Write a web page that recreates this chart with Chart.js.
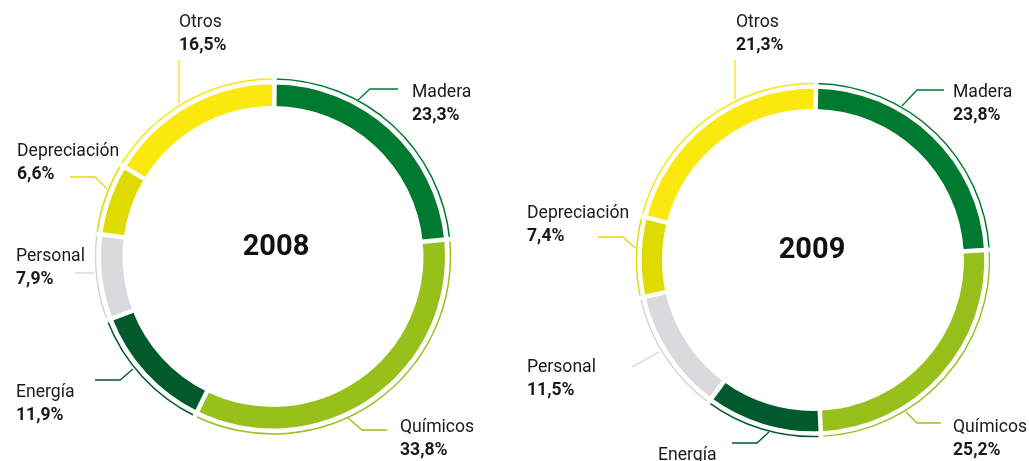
<!DOCTYPE html>
<html>
<head>
<meta charset="utf-8">
<script src="https://cdn.jsdelivr.net/npm/chart.js@4/dist/chart.umd.min.js"></script>
<style>
  html, body { margin: 0; padding: 0; background: #ffffff; }
  body { width: 1029px; height: 461px; position: relative; overflow: hidden; }
  .wrap { position: absolute; top: 0; height: 461px; }
</style>
</head>
<body>
<div class="wrap" id="w1" style="left:0px;width:546px;"><canvas id="c2008" width="546" height="461"></canvas></div>
<div class="wrap" id="w2" style="left:514px;width:515px;"><canvas id="c2009" width="515" height="461"></canvas></div>
<script>
// ---- data ----
const categories = ['Madera', 'Químicos', 'Energía', 'Personal', 'Depreciación', 'Otros'];
const years = ['2008', '2009'];
const values2008 = [23.3, 33.8, 11.9, 7.9, 6.6, 16.5];
const values2009 = [23.8, 25.2, 10.8, 11.5, 7.4, 21.3];

// ---- styles ----
const segColors = ['#017a31', '#97c11a', '#005a2c', '#d9dadb', '#dfdb00', '#fbe90e'];
const thinColors = ['#017a31', '#97c11a', '#005a2c', '#d3d4d5', '#dfdb00', '#f8e60a'];
const FONT = 'Roboto, "Open Sans", sans-serif';

// label layouts (absolute page coords): text x, baseline of first line, leader polyline
const layout2008 = [
  { x: 412, y: 97,  line: [[358,100],[370,89],[398,89]] },
  { x: 400, y: 432, line: [[348,418],[362,430],[387,430]] },
  { x: 16,  y: 397, line: [[133,369],[120,380],[95,380]] },
  { x: 16,  y: 261, line: [[94,273],[75,273]] },
  { x: 17,  y: 156, line: [[107,189],[95,177],[70,177]] },
  { x: 179, y: 27,  line: [[179,103],[179,60]] }
];
const layout2009 = [
  { x: 953, y: 97,  line: [[902,106],[917,90],[944,90]] },
  { x: 953, y: 432, line: [[906,412],[917,423],[941,423]] },
  { x: 658, y: 460, line: [[769,432],[757,443],[732,443]] },
  { x: 527, y: 372, line: [[659,352],[632,367]] },
  { x: 527, y: 218, line: [[635,248],[623,237],[598,237]] },
  { x: 736, y: 27,  line: [[735,100],[735,60]] }
];

function fmt(v) { return v.toFixed(1).replace('.', ',') + '%'; }

const gapPlugin = {
  id: 'gaps',
  afterDatasetsDraw(chart) {
    const ctx = chart.ctx;
    const thick = chart.getDatasetMeta(2).data;
    const thin = chart.getDatasetMeta(0).data;
    if (!thick.length) return;
    const cx = thick[0].x, cy = thick[0].y;
    const r0 = thick[0].innerRadius - 3, r1 = thin[0].outerRadius + 3;
    ctx.save();
    ctx.strokeStyle = '#ffffff';
    ctx.lineWidth = 4.5;
    thick.forEach(a => {
      const ang = a.startAngle;
      ctx.beginPath();
      ctx.moveTo(cx + Math.cos(ang) * r0, cy + Math.sin(ang) * r0);
      ctx.lineTo(cx + Math.cos(ang) * r1, cy + Math.sin(ang) * r1);
      ctx.stroke();
    });
    ctx.restore();
  }
};

const labelPlugin = {
  id: 'labels',
  afterDraw(chart, args, opts) {
    const ctx = chart.ctx;
    const ox = opts.offsetX;
    const meta = chart.getDatasetMeta(2).data;
    const cx = meta[0].x, cy = meta[0].y;
    ctx.save();
    // centre title
    ctx.fillStyle = '#111111';
    ctx.font = 'bold 29px ' + FONT;
    ctx.textAlign = 'center';
    ctx.textBaseline = 'middle';
    ctx.fillText(opts.title, cx + opts.titleDx, cy - 9);
    ctx.textAlign = 'left';
    ctx.textBaseline = 'alphabetic';
    opts.layout.forEach((L, i) => {
      ctx.strokeStyle = thinColors[i];
      ctx.lineWidth = 1.3;
      ctx.beginPath();
      L.line.forEach((p, j) => {
        if (j === 0) ctx.moveTo(p[0] - ox, p[1]); else ctx.lineTo(p[0] - ox, p[1]);
      });
      ctx.stroke();
      ctx.fillStyle = '#1a1a1a';
      ctx.font = '17.6px ' + FONT;
      ctx.fillText(categories[i], L.x - ox, L.y);
      ctx.font = 'bold 17.6px ' + FONT;
      ctx.fillText(fmt(opts.values[i]), L.x - ox, L.y + 22.5);
    });
    ctx.restore();
  }
};

function makeChart(id, values, title, layout, offsetX, pad, rotation, radius, cutout, titleDx) {
  return new Chart(document.getElementById(id), {
    type: 'doughnut',
    data: {
      labels: categories,
      datasets: [
        { data: values, backgroundColor: thinColors, borderWidth: 0, weight: 1.5 },
        { data: values, backgroundColor: 'rgba(0,0,0,0)', borderWidth: 0, weight: 4.75 },
        { data: values, backgroundColor: segColors, borderWidth: 0, weight: 21.5 }
      ]
    },
    options: {
      responsive: false,
      animation: false,
      events: [],
      rotation: rotation,
      radius: radius,
      cutout: cutout,
      layout: { padding: pad },
      plugins: {
        legend: { display: false },
        tooltip: { enabled: false },
        labels: { title: title, layout: layout, values: values, offsetX: offsetX, titleDx: titleDx }
      }
    },
    plugins: [gapPlugin, labelPlugin]
  });
}

makeChart('c2008', values2008, years[0], layout2008, 0,
  { top: 52, left: 0, right: 0, bottom: 0 }, 0.5, 178.25, (150.5 / 178.25 * 100) + '%', 3);
makeChart('c2009', values2009, years[1], layout2009, 514,
  { top: 59, left: 83, right: 0, bottom: 0 }, 1, 177.25, (151 / 177.25 * 100) + '%', -1);
</script>
</body>
</html>
